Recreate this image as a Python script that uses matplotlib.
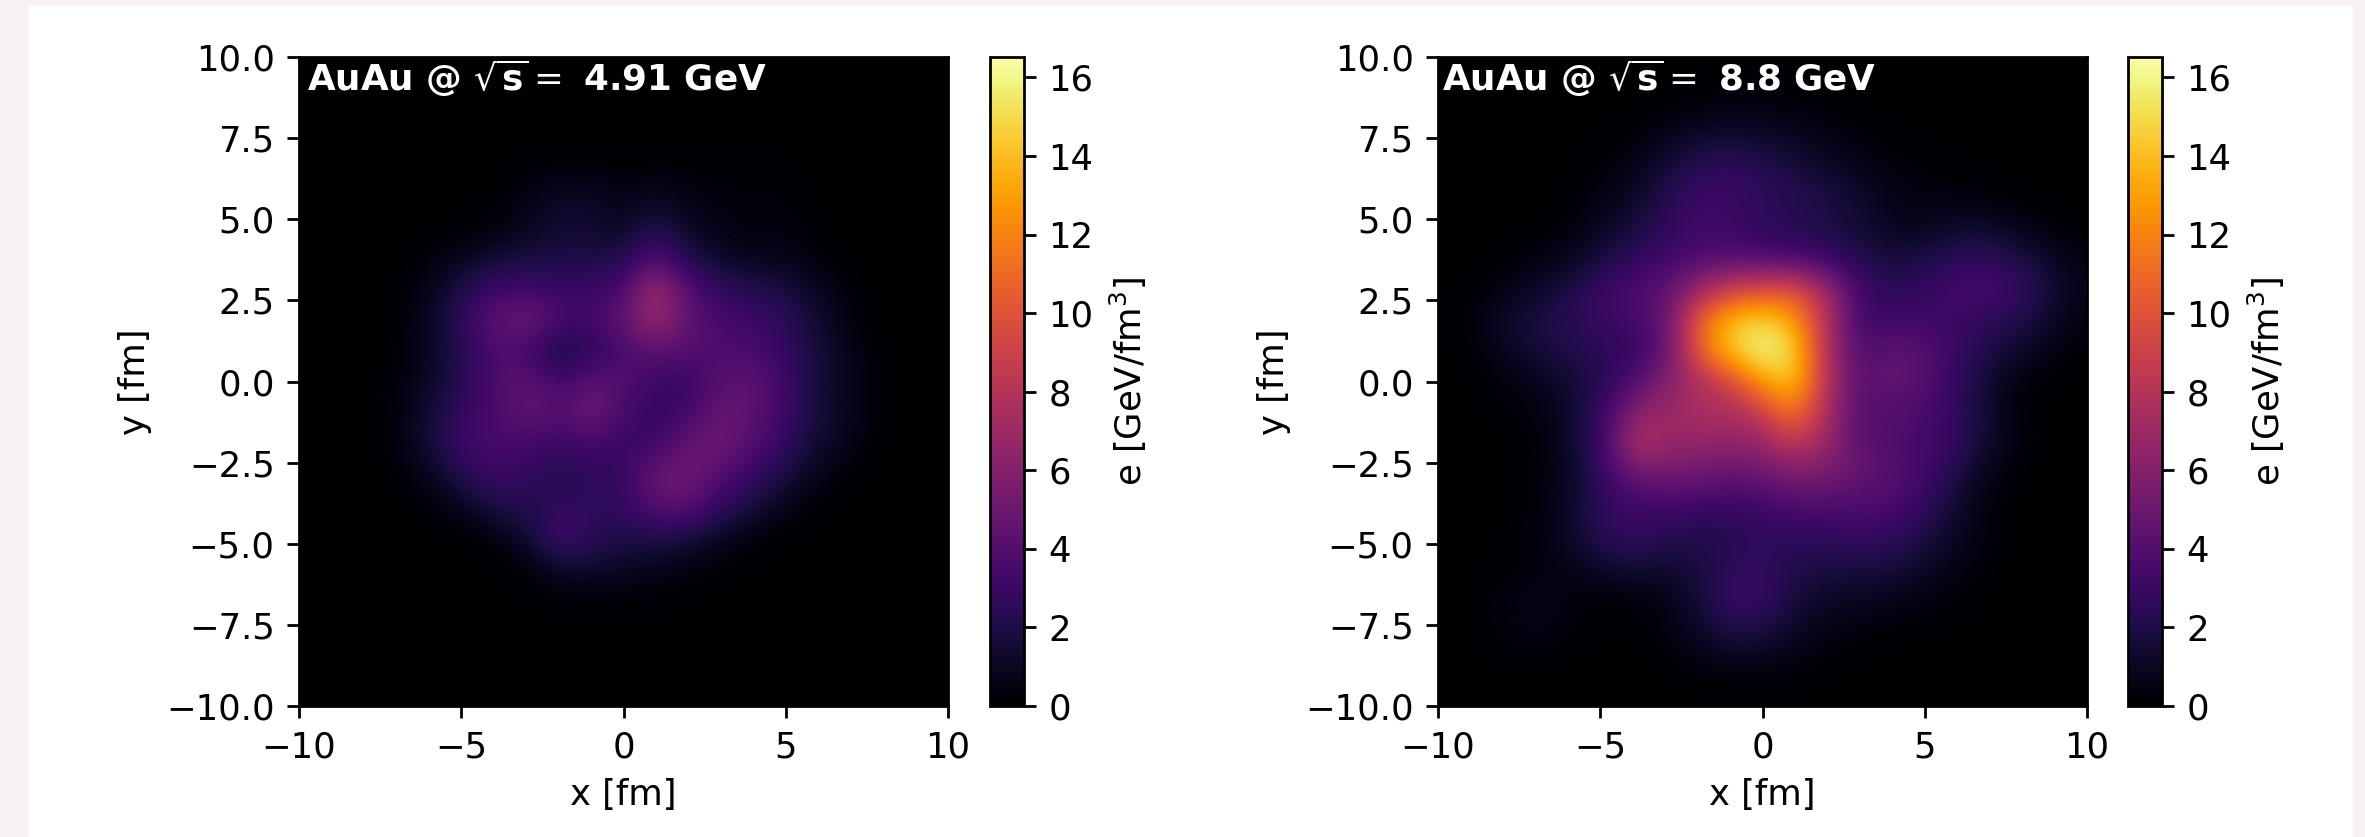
import numpy as np
from matplotlib import pyplot as plt
from matplotlib.patches import Rectangle

W, H = 2365, 837
labels = ['4.91', '8.8']
vmax = 16.52
x_ticks = [-10, -5, 0, 5, 10]
y_ticks = [-10, -7.5, -5, -2.5, 0, 2.5, 5, 7.5, 10]
cbar_ticks = list(range(0, 17, 2))

# energy density, 1 fm grid, rows y=10..-10, columns x=-10..10
# short rows are zero for the rest of the row
e_low = [
    [],
    [],
    [],
    [0, 0, 0, 0, 0, 0, 0, .1, .2, .2, .1, .2, .2, .1, .1, .1],
    [0, 0, 0, 0, 0, 0, .1, .6, 1.1, 1.1, .6, 1, .6, .3, .3, .3, .1],
    [0, 0, 0, 0, 0, .1, .4, 1, 1.5, 1.4, 1, 2.2, 1.2, .6, .3, .4, .2],
    [0, 0, 0, 0, .5, 1, 1.6, 1.8, 1.9, 1.9, 2.1, 3.9, 2.2, 1.2, .8, .8, .4, .1],
    [0, 0, 0, .2, 1, 2.4, 3.2, 3.1, 3, 3, 3.5, 7.5, 4.2, 2.8, 2.2, 2, 1.2, .4],
    [0, 0, 0, .3, 1.4, 3, 4.7, 5.2, 3.5, 3.5, 4.5, 7.1, 4.7, 3.6, 3.2, 2.7, 1.7, .7, .1],
    [0, 0, 0, .3, 1.3, 2.6, 3.9, 3, 1.6, 2.4, 3.5, 4.4, 4, 3.7, 3.7, 3, 2, 1, .2],
    [0, 0, 0, .5, 1.4, 2.6, 3.9, 4.5, 3.2, 4.5, 4, 3, 2.8, 4, 4.6, 3.5, 2, 1.1, .3],
    [0, 0, 0, .7, 1.9, 3, 3.7, 4.8, 3.9, 5.4, 3.5, 2.7, 3.2, 4.7, 4.5, 3.5, 2, 1.1, .3],
    [0, 0, 0, .7, 2, 3.4, 3.5, 3.3, 3, 3.4, 2.8, 3, 4.5, 5.3, 4.3, 3, 1.7, .9, .2],
    [0, 0, 0, .3, 1.2, 2.6, 3.1, 2.7, 2.2, 2.6, 2.9, 4.8, 5.4, 4.1, 3.1, 2.2, 1, .3],
    [0, 0, 0, 0, .3, 1.2, 2.2, 2.3, 2.6, 2.6, 2.8, 4.1, 4.5, 3, 2, 1, .3],
    [0, 0, 0, 0, 0, 0, .6, 1.6, 3.6, 2.5, 2, 2.2, 1.9, 1.2, .5],
    [0, 0, 0, 0, 0, 0, 0, .4, 1.4, 1.4, 1.1, .9, .5, .2],
    [0, 0, 0, 0, 0, 0, 0, 0, .2, .2, .2, .15],
    [],
    [],
    [],
]
e_high = [
    [],
    [0, 0, 0, 0, 0, 0, 0, .1, .3, .4, .4, .25, .1, .05],
    [0, 0, 0, 0, 0, .05, .3, .8, 1.2, 1.4, 1.2, 1, .6, .3, .1, .05],
    [0, 0, 0, 0, .1, .3, .7, 1.6, 2.4, 2.6, 2.2, 1.6, 1.2, .8, .4, .2, .1, .05],
    [0, 0, 0, 0, .2, .6, 1.2, 2.4, 3.1, 3.1, 2.7, 2.4, 2, 1.4, .8, .5, .4, .3, .1],
    [0, 0, 0, .1, .4, 1.1, 1.9, 2.6, 3.4, 3, 2.5, 2.3, 1.9, 1.6, .9, .8, 1.2, 1.3, .9, .4, .1],
    [0, 0, .2, .5, 1, 1.9, 2.7, 3.3, 3.7, 4, 3.6, 3.4, 3, 2.2, 1.7, 1.8, 2.3, 2.7, 2.2, 1.4, .5],
    [0, .2, .8, 1.4, 2.2, 3.2, 3.9, 4.4, 7, 9, 9.5, 10, 7.2, 3.5, 2.6, 2.6, 3.3, 3.6, 3.2, 2.2, .8],
    [.1, .7, 1.5, 2, 2.6, 3, 3.5, 5, 11, 14, 15, 13, 8.5, 3.5, 3, 3.2, 3.1, 2.7, 2.3, 1.5, .5],
    [0, .4, 1.1, 1.8, 2.1, 2.5, 2.9, 4.8, 11, 14.5, 16.4, 15.2, 8, 4, 4.4, 4.4, 3.2, 2.3, 1.4, .9, .2],
    [0, .2, .5, 1, 1.6, 2.5, 4.2, 6.2, 7.5, 9.5, 12.8, 14.5, 8.5, 4.2, 4.6, 4.4, 3, 1.8, .6, .1],
    [0, .05, .2, .6, 1.4, 3.4, 6.3, 7, 7.6, 7.5, 8.8, 11.8, 7.8, 4.2, 4, 3.7, 3, 1.8, .6],
    [0, 0, .1, .4, 1.5, 3.8, 8.2, 6.5, 6.6, 6.4, 6.5, 8.5, 7, 4.5, 4, 3.5, 3, 1.8, .6],
    [0, 0, .05, .3, 1.3, 3.2, 5, 5.3, 5, 4.6, 5, 5.5, 5.5, 4.8, 4.2, 3.6, 2.4, .9, .2],
    [0, 0, .1, .5, 1.4, 2.8, 3.2, 3.3, 3.2, 3, 3.2, 3.8, 3.8, 3.8, 3.7, 3, 1.7, .6, .1],
    [0, 0, .2, .5, 1.4, 2.6, 2.8, 2.3, 2.0, 2.3, 2.6, 2.6, 2.6, 2.9, 2.8, 2.2, 1.2, .5, .1],
    [0, .1, .2, .4, .8, 1.4, 1.6, 1.4, 1.8, 2.6, 2.8, 2.2, 1.9, 1.8, 1.8, 1.3, .7, .3],
    [0, .2, .5, .6, .3, .2, .3, .7, 1.7, 3, 2.9, 1.7, 1.1, 1.1, .8, .6, .3, .1],
    [0, .2, .5, .6, .2, .05, .1, .5, 1.2, 2.2, 2, 1.2, .7, .4, .2, .05],
    [0, 0, .1, .1, 0, 0, 0, .2, .5, .8, .7, .5, .2, 0],
    [],
]


def grid(rows):
    return np.array([r + [0] * (21 - len(r)) for r in rows])


def px_axes(fig, x0, x1, y0, y1):
    return fig.add_axes([x0 / W, 1 - y1 / H, (x1 - x0) / W, (y1 - y0) / H])


plt.rcParams['font.size'] = 10.2
fig = plt.figure(figsize=(W / 250, H / 250), dpi=250, facecolor='#f9f2f3')
fig.add_artist(Rectangle((29 / W, 0), (2353 - 29) / W, 1 - 6 / H, transform=fig.transFigure,
                         facecolor='white', edgecolor='none', zorder=-1))

boxes = [(299, 948, 990, 1024), (1438, 2087, 2128, 2162)]
text_x = [0.012, 0.006]
for rows, label, tx, (x0, x1, c0, c1) in zip([e_low, e_high], labels, text_x, boxes):
    ax = px_axes(fig, x0, x1, 57, 706)
    im = ax.imshow(grid(rows), cmap='inferno', vmin=0, vmax=vmax, extent=[-10, 10, -10, 10],
                   interpolation='bicubic', aspect='auto')
    ax.set_xticks(x_ticks)
    ax.set_yticks(y_ticks)
    ax.set_xlabel('x [fm]')
    ax.set_ylabel('y [fm]')
    ax.text(tx, 0.999, r'AuAu @ $\sqrt{\mathbf{s}}=$ ' + label + ' GeV', transform=ax.transAxes,
            color='white', fontweight='bold', va='top', ha='left', fontsize=10.3)
    cax = px_axes(fig, c0, c1, 57, 706)
    cb = fig.colorbar(im, cax=cax)
    cb.set_ticks(cbar_ticks)
    cb.set_label(r'e [GeV/fm$^3$]')

fig.savefig('out.png', dpi=250, facecolor=fig.get_facecolor())
